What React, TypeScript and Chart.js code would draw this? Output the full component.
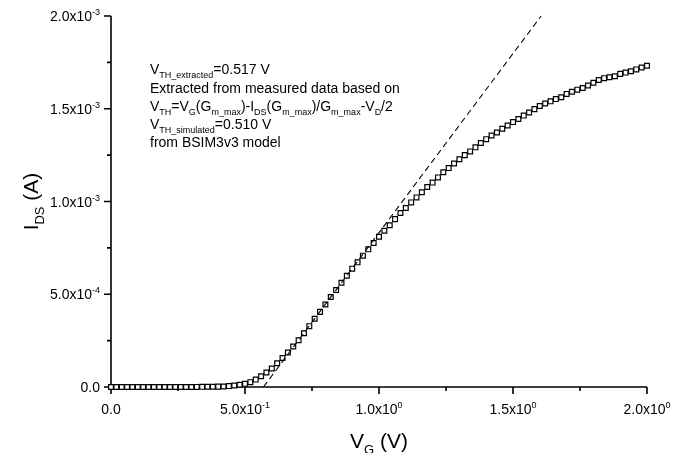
import React, { useEffect, useRef } from "react";
import { Chart, registerables } from "chart.js";
Chart.register(...registerables);

// Gate voltage (V)
const vg = [
  0.0, 0.02, 0.04, 0.06, 0.08, 0.1, 0.12, 0.14, 0.16, 0.18,
  0.2, 0.22, 0.24, 0.26, 0.28, 0.3, 0.32, 0.34, 0.36, 0.38,
  0.4, 0.42, 0.44, 0.46, 0.48, 0.5, 0.52, 0.54, 0.56, 0.58,
  0.6, 0.62, 0.64, 0.66, 0.68, 0.7, 0.72, 0.74, 0.76, 0.78,
  0.8, 0.82, 0.84, 0.86, 0.88, 0.9, 0.92, 0.94, 0.96, 0.98,
  1.0, 1.02, 1.04, 1.06, 1.08, 1.1, 1.12, 1.14, 1.16, 1.18,
  1.2, 1.22, 1.24, 1.26, 1.28, 1.3, 1.32, 1.34, 1.36, 1.38,
  1.4, 1.42, 1.44, 1.46, 1.48, 1.5, 1.52, 1.54, 1.56, 1.58,
  1.6, 1.62, 1.64, 1.66, 1.68, 1.7, 1.72, 1.74, 1.76, 1.78,
  1.8, 1.82, 1.84, 1.86, 1.88, 1.9, 1.92, 1.94, 1.96, 1.98,
  2.0,
];

// Drain current (A)
const ids = [
  0, 0, 0, 0, 0, 0, 0, 0, 0, 0,
  0, 0, 0, 0, 0, 0, 0.5e-6, 0.7e-6, 1.0e-6, 1.5e-6,
  2.0e-6, 3.0e-6, 5.0e-6, 8.0e-6, 1.2e-5, 1.7e-5, 2.6e-5, 4.0e-5, 5.8e-5, 7.8e-5,
  1.0e-4, 1.28e-4, 1.56e-4, 1.86e-4, 2.18e-4, 2.52e-4, 2.9e-4, 3.28e-4, 3.68e-4, 4.05e-4,
  4.45e-4, 4.85e-4, 5.23e-4, 5.62e-4, 6.0e-4, 6.38e-4, 6.72e-4, 7.08e-4, 7.42e-4, 7.76e-4,
  8.1e-4, 8.42e-4, 8.72e-4, 9.05e-4, 9.38e-4, 9.65e-4, 9.95e-4, 1.022e-3, 1.05e-3, 1.078e-3,
  1.102e-3, 1.13e-3, 1.158e-3, 1.18e-3, 1.205e-3, 1.228e-3, 1.25e-3, 1.27e-3, 1.292e-3, 1.315e-3,
  1.336e-3, 1.356e-3, 1.372e-3, 1.392e-3, 1.41e-3, 1.428e-3, 1.445e-3, 1.463e-3, 1.48e-3, 1.498e-3,
  1.515e-3, 1.528e-3, 1.54e-3, 1.552e-3, 1.562e-3, 1.58e-3, 1.592e-3, 1.603e-3, 1.612e-3, 1.625e-3,
  1.64e-3, 1.655e-3, 1.665e-3, 1.67e-3, 1.675e-3, 1.688e-3, 1.695e-3, 1.702e-3, 1.712e-3, 1.722e-3,
  1.732e-3,
];

// Tangent (dashed) line end points
const tangentV = [0.569, 1.605];
const tangentI = [0, 2.0e-3];

const xMajor = [0, 0.5, 1.0, 1.5, 2.0];
const xMinor = [0.25, 0.75, 1.25, 1.75];
const xTickBase = ["0.0", "5.0x10", "1.0x10", "1.5x10", "2.0x10"];
const xTickExp = ["", "-1", "0", "0", "0"];

const yMajor = [0, 5e-4, 1e-3, 1.5e-3, 2e-3];
const yMinor = [2.5e-4, 7.5e-4, 1.25e-3, 1.75e-3];
const yTickBase = ["0.0", "5.0x10", "1.0x10", "1.5x10", "2.0x10"];
const yTickExp = ["", "-4", "-3", "-3", "-3"];

type Seg = [string, "n" | "sub" | "sup"];

const noteLines: Seg[][] = [
  [["V", "n"], ["TH_extracted", "sub"], ["=0.517 V", "n"]],
  [["Extracted from measured data based on", "n"]],
  [
    ["V", "n"], ["TH", "sub"], ["=V", "n"], ["G", "sub"], ["(G", "n"], ["m_max", "sub"],
    [")-I", "n"], ["DS", "sub"], ["(G", "n"], ["m_max", "sub"], [")/G", "n"], ["m_max", "sub"],
    ["-V", "n"], ["D", "sub"], ["/2", "n"],
  ],
  [["V", "n"], ["TH_simulated", "sub"], ["=0.510 V", "n"]],
  [["from BSIM3v3 model", "n"]],
];

const xTitle: Seg[] = [["V", "n"], ["G", "sub"], [" (V)", "n"]];
const yTitle: Seg[] = [["I", "n"], ["DS", "sub"], [" (A)", "n"]];

const FONT = "'Liberation Sans', Arial, sans-serif";

function segFont(kind: string, size: number) {
  const s = kind === "n" ? size : Math.round(size * 0.62);
  return `${s}px ${FONT}`;
}

function measure(ctx: CanvasRenderingContext2D, segs: Seg[], size: number) {
  let w = 0;
  for (const [t, k] of segs) {
    ctx.font = segFont(k, size);
    w += ctx.measureText(t).width;
  }
  return w;
}

function drawRich(
  ctx: CanvasRenderingContext2D,
  segs: Seg[],
  x: number,
  baseline: number,
  size: number,
  align: "left" | "center" | "right"
) {
  const w = measure(ctx, segs, size);
  let cx = align === "left" ? x : align === "center" ? x - w / 2 : x - w;
  ctx.textAlign = "left";
  ctx.textBaseline = "alphabetic";
  for (const [t, k] of segs) {
    ctx.font = segFont(k, size);
    let dy = 0;
    if (k === "sub") dy = size * 0.3;
    if (k === "sup") dy = -size * 0.42;
    ctx.fillText(t, cx, baseline + dy);
    cx += ctx.measureText(t).width;
  }
}

const axesPlugin = {
  id: "originAxes",
  beforeDatasetsDraw(chart: any) {
    const ctx: CanvasRenderingContext2D = chart.ctx;
    const xs = chart.scales.x;
    const ys = chart.scales.y;
    const left = xs.getPixelForValue(0);
    const right = xs.getPixelForValue(2);
    const bottom = ys.getPixelForValue(0);
    const top = ys.getPixelForValue(2e-3);
    ctx.save();
    ctx.strokeStyle = "#000";
    ctx.fillStyle = "#000";
    ctx.lineWidth = 1.6;
    ctx.beginPath();
    ctx.moveTo(left, top);
    ctx.lineTo(left, bottom);
    ctx.moveTo(left - 7, bottom);
    ctx.lineTo(right, bottom);
    for (const v of xMajor) {
      const px = xs.getPixelForValue(v);
      ctx.moveTo(px, bottom);
      ctx.lineTo(px, bottom + 7);
    }
    for (const v of xMinor) {
      const px = xs.getPixelForValue(v);
      ctx.moveTo(px, bottom);
      ctx.lineTo(px, bottom + 4);
    }
    for (const v of yMajor) {
      const py = ys.getPixelForValue(v);
      ctx.moveTo(left, py);
      ctx.lineTo(left - 7, py);
    }
    for (const v of yMinor) {
      const py = ys.getPixelForValue(v);
      ctx.moveTo(left, py);
      ctx.lineTo(left - 4, py);
    }
    ctx.stroke();

    const tf = 14;
    xMajor.forEach((v, i) => {
      const px = xs.getPixelForValue(v);
      const segs: Seg[] = [[xTickBase[i], "n"]];
      if (xTickExp[i]) segs.push([xTickExp[i], "sup"]);
      drawRich(ctx, segs, px, bottom + 27, tf, "center");
    });
    yMajor.forEach((v, i) => {
      const py = ys.getPixelForValue(v);
      const segs: Seg[] = [[yTickBase[i], "n"]];
      if (yTickExp[i]) segs.push([yTickExp[i], "sup"]);
      drawRich(ctx, segs, left - 11, py + 5, tf, "right");
    });

    // axis titles
    drawRich(ctx, xTitle, (left + right) / 2, bottom + 61, 21, "center");
    ctx.save();
    ctx.translate(38, (top + bottom) / 2);
    ctx.rotate(-Math.PI / 2);
    drawRich(ctx, yTitle, 0, 0, 21, "center");
    ctx.restore();

    // annotation
    const baselines = [74, 93, 111, 129, 147];
    noteLines.forEach((line, i) => {
      drawRich(ctx, line, 150, baselines[i], 14, "left");
    });
    ctx.restore();
  },
};

export default function App() {
  const ref = useRef<HTMLCanvasElement>(null);
  useEffect(() => {
    if (!ref.current) return;
    const chart = new Chart(ref.current, {
      type: "scatter",
      data: {
        datasets: [
          {
            label: "tangent",
            data: tangentV.map((v, i) => ({ x: v, y: tangentI[i] })),
            showLine: true,
            borderColor: "#000",
            borderWidth: 1.1,
            borderDash: [6, 4],
            pointRadius: 0,
            fill: false,
            clip: false as any,
          },
          {
            label: "measured",
            data: vg.map((v, i) => ({ x: v, y: ids[i] })),
            showLine: false,
            pointStyle: "rect",
            pointRadius: 3.4,
            pointBorderWidth: 1.2,
            pointBorderColor: "#000",
            pointBackgroundColor: "#fff",
            clip: false as any,
          },
        ],
      },
      options: {
        animation: false,
        responsive: false,
        layout: { padding: { left: 111, right: 40, top: 16, bottom: 66 } },
        plugins: { legend: { display: false }, tooltip: { enabled: false } },
        scales: {
          x: { type: "linear", min: 0, max: 2, display: false },
          y: { type: "linear", min: 0, max: 2e-3, display: false },
        },
      },
      plugins: [axesPlugin],
    });
    return () => chart.destroy();
  }, []);
  return (
    <div style={{ position: "absolute", left: 0, top: 0, width: 687, height: 453, background: "#fff" }}>
      <canvas ref={ref} width={687} height={453} />
    </div>
  );
}
